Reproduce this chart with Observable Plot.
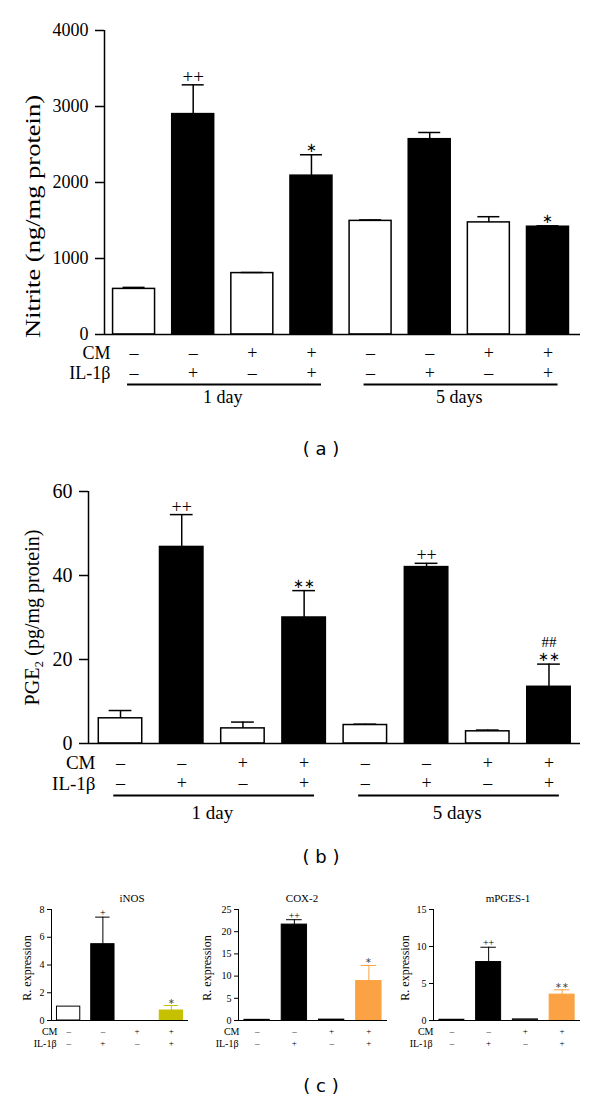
<!DOCTYPE html>
<html><head><meta charset="utf-8">
<script src="https://cdn.jsdelivr.net/npm/d3@7"></script>
<script src="https://cdn.jsdelivr.net/npm/@observablehq/plot@0.6"></script>
<style>
body{margin:0;background:#fff;}
#root{position:relative;width:600px;height:1100px;overflow:hidden;background:#fff;}
.panel{position:absolute;}
.panel svg text{font-family:"Liberation Serif","Times New Roman",serif !important;}
.cap{position:absolute;font-family:"DejaVu Sans";font-size:18px;transform:translate(-50%,-50%);white-space:pre;color:#000;}
</style></head><body><div id="root"></div>
<script>
// ---------- data ----------
const cmSigns = ["–", "–", "+", "+", "–", "–", "+", "+"];
const ilSigns = ["–", "+", "–", "+", "–", "+", "–", "+"];
const groupLabels = ["1 day", "5 days"];
const groupFirst = [1, 5];
const groupLast = [4, 8];

const nitriteMean = [600, 2900, 808, 2090, 1495, 2570, 1475, 1418];
const nitriteErr  = [20, 385, 8, 275, 13, 88, 75, 12];
const nitriteSig  = ["", "++", "", "∗", "", "", "", "∗"];
const nitriteTicks = [0, 1000, 2000, 3000, 4000];

const pgeMean = [6.0, 46.8, 3.6, 30.0, 4.4, 42.0, 2.9, 13.5];
const pgeErr  = [1.85, 7.7, 1.5, 6.4, 0.2, 0.9, 0.3, 5.4];
const pgeSig  = ["", "++", "", "∗∗", "", "++", "", "∗∗"];
const pgeSig2 = ["", "", "", "", "", "", "", "##"];
const pgeTicks = [0, 20, 40, 60];

const cCm = ["–", "–", "+", "+"];
const cIl = ["–", "+", "–", "+"];
const inosMean = [1.0, 5.5, 0, 0.72];
const inosErr  = [0, 1.95, 0, 0.36];
const inosSig  = ["", "+", "", "∗"];
const inosTicks = [0, 2, 4, 6, 8];
const cox2Mean = [0.15, 21.6, 0.2, 8.9];
const cox2Err  = [0, 1.1, 0, 3.5];
const cox2Sig  = ["", "++", "", "∗"];
const cox2Ticks = [0, 5, 10, 15, 20, 25];
const mpgesMean = [0.1, 7.9, 0.15, 3.5];
const mpgesErr  = [0, 2.0, 0, 0.65];
const mpgesSig  = ["", "++", "", "∗∗"];
const mpgesTicks = [0, 5, 10, 15];

const root = document.getElementById("root");
const serif = "Liberation Serif";
const isStar = s => s.includes("∗");

function place(el, left, top) {
  const d = document.createElement("div");
  d.className = "panel";
  d.style.left = left + "px";
  d.style.top = top + "px";
  d.appendChild(el);
  root.appendChild(d);
}
function caption(text, cx, cy) {
  const d = document.createElement("div");
  d.className = "cap";
  d.style.left = cx + "px";
  d.style.top = cy + "px";
  d.textContent = text;
  root.appendChild(d);
}

function mainPanel(o) {
  const data = o.mean.map((v, k) => ({
    i: k + 1, v, e: o.err[k], cm: cmSigns[k], il: ilSigns[k],
    s1: o.sig[k], s2: o.sig2 ? o.sig2[k] : "",
    fill: ilSigns[k] === "+" ? "black" : "white"
  }));
  const groups = groupLabels.map((label, k) => ({label, a: groupFirst[k], b: groupLast[k]}));
  const hw = 0.355, cap = 0.186;
  const yMax = o.ticks[o.ticks.length - 1];
  const svg = Plot.plot({
    width: 600, height: o.height,
    marginTop: o.mt, marginBottom: o.mb, marginLeft: o.ml, marginRight: 20,
    x: {domain: o.xDomain, axis: null},
    y: {domain: [0, yMax], axis: null},
    color: {type: "identity"},
    style: {fontFamily: serif, fontSize: o.tickFont + "px", background: "white", color: "black", overflow: "visible"},
    marks: [
      Plot.rect(data, {x1: d => d.i - hw, x2: d => d.i + hw, y1: 0, y2: "v", fill: "fill", stroke: "black", strokeWidth: 1.5}),
      Plot.ruleX(data, {x: "i", y1: "v", y2: d => d.v + d.e, stroke: "black", strokeWidth: 1.5}),
      Plot.ruleY(data, {x1: d => d.i - cap, x2: d => d.i + cap, y: d => d.v + d.e, stroke: "black", strokeWidth: 1.5}),
      Plot.ruleY([0], {stroke: "black", strokeWidth: 1.5}),
      Plot.ruleX([o.xDomain[0]], {y1: 0, y2: yMax, stroke: "black", strokeWidth: 1.5}),
      Plot.axisY({ticks: o.ticks, tickFormat: d => String(d), tickSize: 9, tickPadding: 7, label: null, strokeWidth: 1.5}),
      Plot.text([o.ylabel], {frameAnchor: "left", rotate: -90, textAnchor: "middle", lineAnchor: "middle", dx: o.ylDx, dy: o.ylDy, fontSize: o.ylFont}),
      Plot.text(data.filter(d => !isStar(d.s1)), {x: "i", y: d => d.v + d.e, text: "s1", lineAnchor: "bottom", dy: -2, fontSize: o.sigFont}),
      Plot.text(data.filter(d => isStar(d.s1)), {x: "i", y: d => d.v + d.e, text: "s1", lineAnchor: "bottom", dy: -3, fontSize: 13}),
      Plot.text(data, {x: "i", y: d => d.v + d.e, text: "s2", lineAnchor: "bottom", dy: -17, fontSize: o.sigFont - 3}),
      Plot.text(["CM"], {frameAnchor: "bottom-left", textAnchor: "end", lineAnchor: "middle", dx: o.rowDx, dy: o.cmDy, fontSize: o.rowFont}),
      Plot.text(["IL-1β"], {frameAnchor: "bottom-left", textAnchor: "end", lineAnchor: "middle", dx: o.rowDx, dy: o.ilDy, fontSize: o.rowFont}),
      Plot.text(data, {x: "i", y: 0, text: "cm", dy: o.cmDy, lineAnchor: "middle", fontSize: o.signFont}),
      Plot.text(data, {x: "i", y: 0, text: "il", dy: o.ilDy, lineAnchor: "middle", fontSize: o.signFont}),
      Plot.ruleY(groups, {x1: d => d.a - 0.11, x2: d => d.b + 0.17, y: 0, dy: o.lineDy, stroke: "black", strokeWidth: 2}),
      Plot.text(groups, {x: d => (d.a + d.b) / 2, y: 0, text: "label", dy: o.grpDy, lineAnchor: "middle", fontSize: o.rowFont})
    ]
  });
  if (o.ylLen) {
    svg.querySelectorAll("text").forEach(t => {
      if (t.textContent === o.ylabel) { t.setAttribute("textLength", o.ylLen); t.setAttribute("lengthAdjust", "spacingAndGlyphs"); }
    });
  }
  return svg;
}

function smallPanel(o) {
  const data = o.mean.map((v, k) => ({
    i: k + 1, v, e: o.err[k], cm: cCm[k], il: cIl[k], s1: o.sig[k],
    fill: o.fills[k],
    line: o.fills[k] === "white" ? "black" : o.fills[k]
  }));
  const hw = 0.34, cap = 0.21;
  const yMax = o.ticks[o.ticks.length - 1];
  const errs = data.filter(d => d.e > 0);
  return Plot.plot({
    width: 200, height: 170,
    marginTop: 29, marginBottom: 30, marginLeft: o.ml, marginRight: o.mr,
    x: {domain: [0.5, 4.5], axis: null},
    y: {domain: [0, yMax], axis: null},
    color: {type: "identity"},
    style: {fontFamily: serif, fontSize: "10px", background: "white", color: "black", overflow: "visible"},
    marks: [
      Plot.rect(data, {x1: d => d.i - hw, x2: d => d.i + hw, y1: 0, y2: "v", fill: "fill", stroke: "line", strokeWidth: 1}),
      Plot.ruleX(errs, {x: "i", y1: "v", y2: d => d.v + d.e, stroke: "line", strokeWidth: 1}),
      Plot.ruleY(errs, {x1: d => d.i - cap, x2: d => d.i + cap, y: d => d.v + d.e, stroke: "line", strokeWidth: 1}),
      Plot.ruleY([0], {stroke: "black", strokeWidth: 1}),
      Plot.ruleX([0.5], {y1: 0, y2: yMax, stroke: "black", strokeWidth: 1}),
      Plot.axisY({ticks: o.ticks, tickFormat: d => String(d), tickSize: 4, tickPadding: 3, label: null, strokeWidth: 1}),
      Plot.text([o.title], {frameAnchor: "top", textAnchor: "middle", lineAnchor: "middle", dx: o.titleDx, dy: -11, fontSize: 11}),
      Plot.text(["R. expression"], {frameAnchor: "left", rotate: -90, textAnchor: "middle", lineAnchor: "middle", dx: o.ylDx, dy: 3, fontSize: 12}),
      Plot.text(data.filter(d => !isStar(d.s1)), {x: "i", y: d => d.v + d.e, text: "s1", lineAnchor: "bottom", dy: -1, fontSize: 10}),
      Plot.text(data.filter(d => isStar(d.s1)), {x: "i", y: d => d.v + d.e, text: "s1", lineAnchor: "bottom", dy: -2, fontSize: 8, fill: "#444"}),
      Plot.text(["CM"], {frameAnchor: "bottom-left", textAnchor: "end", lineAnchor: "middle", dx: o.rowDx, dy: 11, fontSize: 10}),
      Plot.text(["IL-1β"], {frameAnchor: "bottom-left", textAnchor: "end", lineAnchor: "middle", dx: o.rowDx - 1, dy: 23, fontSize: 10}),
      Plot.text(data, {x: "i", y: 0, text: "cm", dy: 11, lineAnchor: "middle", fontSize: 9}),
      Plot.text(data, {x: "i", y: 0, text: "il", dy: 23, lineAnchor: "middle", fontSize: 9})
    ]
  });
}

// (a) nitrite
place(mainPanel({
  mean: nitriteMean, err: nitriteErr, sig: nitriteSig, ticks: nitriteTicks,
  height: 410, mt: 30, mb: 76, ml: 104, xDomain: [0.5, 8.55],
  tickFont: 18, ylabel: "Nitrite (ng/mg protein)", ylDx: -71, ylDy: 34, ylFont: 21, ylLen: 243,
  sigFont: 19, rowFont: 18, signFont: 18, rowDx: 6,
  cmDy: 18.5, ilDy: 38.5, lineDy: 50, grpDy: 63
}), 0, 0);
caption("( a )", 321, 448);

// (b) PGE2
place(mainPanel({
  mean: pgeMean, err: pgeErr, sig: pgeSig, sig2: pgeSig2, ticks: pgeTicks,
  height: 363, mt: 31, mb: 80, ml: 88, xDomain: [0.477, 8.515],
  tickFont: 20, ylabel: "PGE₂ (pg/mg protein)", ylDx: -56, ylDy: 0, ylFont: 20,
  sigFont: 18, rowFont: 19, signFont: 18, rowDx: 7,
  cmDy: 19.5, ilDy: 40, lineDy: 52, grpDy: 69
}), 0, 460);
caption("( b )", 321, 856);

// (c) gene expression
place(smallPanel({mean: inosMean, err: inosErr, sig: inosSig, ticks: inosTicks, title: "iNOS",
  fills: ["white", "black", "white", "#c6c100"], ml: 51, mr: 12, titleDx: 12, ylDx: -24, rowDx: 6}), 0, 880);
place(smallPanel({mean: cox2Mean, err: cox2Err, sig: cox2Sig, ticks: cox2Ticks, title: "COX-2",
  fills: ["white", "black", "white", "#fba344"], ml: 38, mr: 13, titleDx: -11, ylDx: -31, rowDx: 1}), 200, 880);
place(smallPanel({mean: mpgesMean, err: mpgesErr, sig: mpgesSig, ticks: mpgesTicks, title: "mPGES-1",
  fills: ["white", "black", "white", "#fba344"], ml: 33, mr: 20, titleDx: 1, ylDx: -28, rowDx: 0}), 400, 880);
caption("( c )", 321, 1085);
</script>
</body></html>
